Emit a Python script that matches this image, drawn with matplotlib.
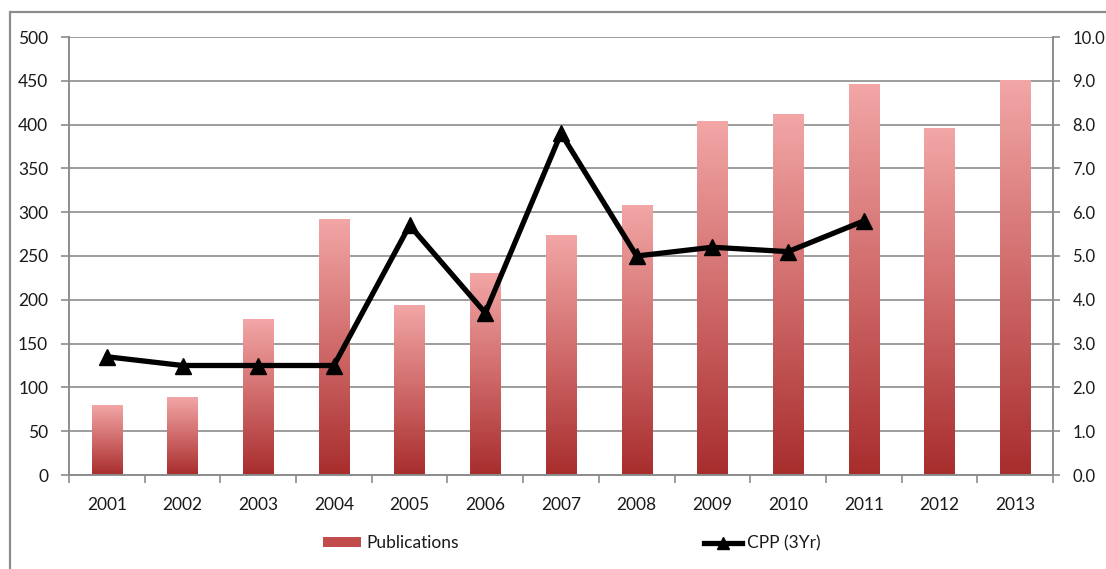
import numpy as np
import matplotlib
matplotlib.use("Agg")
from matplotlib import pyplot as plt
from matplotlib.patches import Rectangle, Patch
from matplotlib.lines import Line2D
from matplotlib.colors import LinearSegmentedColormap
from matplotlib.ticker import MultipleLocator, FixedLocator

plt.rcParams['font.family'] = ['Lato', 'DejaVu Sans']

years = ['2001', '2002', '2003', '2004', '2005', '2006', '2007',
         '2008', '2009', '2010', '2011', '2012', '2013']
publications = [79, 88, 178, 292, 193, 230, 273, 308, 403, 411, 446, 396, 450]
cpp_years = years[:11]
cpp = [2.7, 2.5, 2.5, 2.5, 5.7, 3.7, 7.8, 5.0, 5.2, 5.1, 5.8]

grey = '#8c8c8c'
txt = '#1a1a1a'
fs = 12.5
bar_cmap = LinearSegmentedColormap.from_list('pubs', ['#a82d2d', '#d06a6a', '#f2a6a6'])

fig = plt.figure(figsize=(11.06, 5.69), dpi=100)
ax = fig.add_axes([69/1106, 94/569, (1053-69)/1106, (475-37)/569])
ax2 = ax.twinx()

x = np.arange(len(years))
w = 0.4
# bars are drawn as invisible patches, then filled with a vertical gradient
bars = ax.bar(x, publications, width=w, color='none', edgecolor='none', zorder=2)
grad = np.linspace(0, 1, 256).reshape(-1, 1)
for b in bars:
    ax.imshow(grad, cmap=bar_cmap, origin='lower', aspect='auto', zorder=2,
              extent=[b.get_x(), b.get_x() + b.get_width(), 0, b.get_height()])

ax.set_xlim(-0.5, len(years) - 0.5)
ax.set_ylim(0, 500)
ax.yaxis.set_major_locator(MultipleLocator(50))
ax.set_xticks(x)
ax.set_xticklabels(years)
ax.xaxis.set_minor_locator(FixedLocator(np.arange(-0.5, len(years), 1)))
ax.tick_params(axis='x', which='major', length=0, pad=16, labelsize=fs, labelcolor=txt)
ax.tick_params(axis='x', which='minor', length=6, width=1.2, color=grey, direction='out')
ax.tick_params(axis='y', length=6, width=1.2, color=grey, pad=9, labelsize=fs, labelcolor=txt)
ax.grid(axis='y', color=grey, linewidth=1.2)
ax.set_axisbelow(True)

cx = [years.index(y) for y in cpp_years]
ax2.plot(cx, cpp, color='black', linewidth=3.8, marker='^', markersize=11,
         markerfacecolor='black', markeredgecolor='black', zorder=3)
ax2.set_ylim(0, 10)
ax2.set_yticks(np.arange(0, 11, 1))
ax2.set_yticklabels(['%.1f' % v for v in np.arange(0, 11, 1)])
ax2.tick_params(axis='y', length=5, width=1.2, color=grey, pad=9, labelsize=12, labelcolor=txt)

for a in (ax, ax2):
    a.spines['top'].set_visible(False)
    for s in ('left', 'right', 'bottom'):
        a.spines[s].set_color(grey)
        a.spines[s].set_linewidth(1.2)

# outer chart frame
fig.patches.append(Rectangle((10/1106, -0.05), 1.2, 1 - 12/569 + 0.05, transform=fig.transFigure,
                             fill=False, edgecolor=grey, linewidth=1.6))

handles = [Patch(facecolor='#c24c4c', edgecolor='none'),
           Line2D([], [], color='black', linewidth=3.8, marker='^', markersize=8)]
fig.legend(handles, ['Publications', 'CPP (3Yr)'], loc='center', ncol=2,
           bbox_to_anchor=(572/1106, 1 - 543/569), frameon=False, fontsize=fs,
           handlelength=2.2, handleheight=0.5, handletextpad=0.3, columnspacing=14.1,
           labelcolor=txt)

fig.savefig('out.png', dpi=100)
